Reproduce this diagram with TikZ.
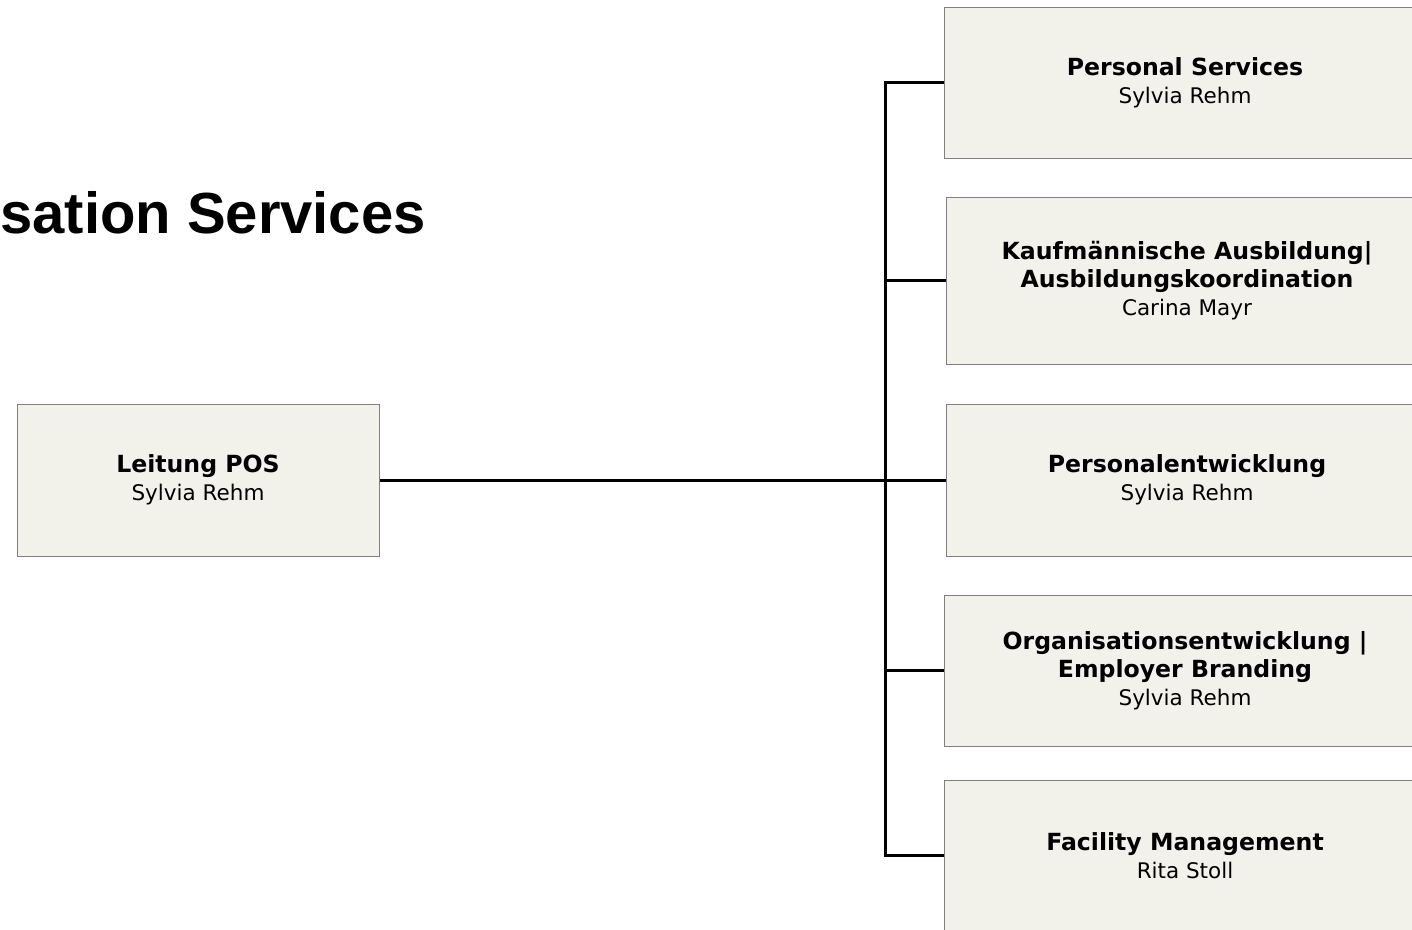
\documentclass[tikz,border=0pt]{standalone}
\usepackage{fontspec}
\setmainfont{DejaVu Sans}
\newfontfamily\titlefont{Liberation Sans}
\definecolor{boxfill}{HTML}{F3F2EA}
\definecolor{boxline}{HTML}{808080}
\newcommand{\unittext}[2]{#1\\\mdseries\fontsize{21.5}{28}\selectfont #2}

\begin{document}
\begin{tikzpicture}[x=1pt,y=-1pt,
  unit/.style={draw=boxline, line width=1pt, fill=boxfill, align=center,
    inner sep=0pt, minimum width=482pt, minimum height=151pt,
    font=\fontsize{23.6}{28}\selectfont\bfseries},
  link/.style={draw=black, line width=3pt},
  heading/.style={font=\titlefont\fontsize{58}{66}\selectfont\bfseries, inner sep=0pt}]
\useasboundingbox (0,0) rectangle (1412,929);
\clip (0,0) rectangle (1412,929);
% title, cut at the left edge
\node[heading, anchor=base east] (title) at (426,233) {sation Services};
% head of the unit
\node[unit, minimum width=362pt, minimum height=152pt] (lead) at (198,480)
  {\unittext{Leitung POS}{Sylvia Rehm}};
% departments
\node[unit] (ps) at (1185,82.5) {\unittext{Personal Services}{Sylvia Rehm}};
\node[unit, minimum height=167pt] (kaa) at (1187,280.5)
  {\unittext{Kaufmännische Ausbildung|\\Ausbildungskoordination}{Carina Mayr}};
\node[unit, minimum height=152pt] (pe) at (1187,480)
  {\unittext{Personalentwicklung}{Sylvia Rehm}};
\node[unit] (oe) at (1185,670.5)
  {\unittext{Organisationsentwicklung |\\Employer Branding}{Sylvia Rehm}};
\node[unit] (fm) at (1185,855.5) {\unittext{Facility Management}{Rita Stoll}};
% connectors
\coordinate (trunk) at (885,0);
\draw[link] (ps.west) -- (ps.west -| trunk) -- (fm.west -| trunk) -- (fm.west);
\foreach \n in {kaa,pe,oe}
  \draw[link] (\n.west -| trunk) -- (\n.west);
\draw[link] (lead.east) -- (pe.west -| trunk);
\end{tikzpicture}
\end{document}
